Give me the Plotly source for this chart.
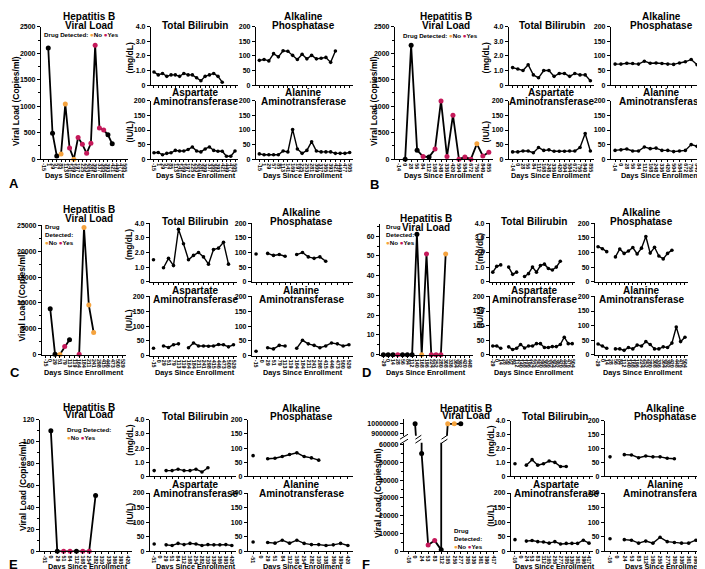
import plotly.graph_objects as go

W, H = 705, 569
FONT = "Liberation Sans"
ORANGE = "#F5A33E"
RED = "#C5195A"
DRUG_COLOR = {"K": "#000000", "N": ORANGE, "Y": RED, "": "#000000"}

# ---------------- Panel A ----------------
A_days = ["-15", "1", "29", "57", "85", "113", "141", "169", "197", "225", "253",
          "281", "309", "337", "365", "393", "421", "449", "477", "505"]
A_viral = [None, 2100, 490, 60, 100, 1040, 210, 0, 410, 280, 110, 300, 2150, 590,
           550, 460, 290, None, None, None]
A_drug = ["", "K", "K", "K", "N", "N", "Y", "N", "Y", "Y", "Y", "Y", "Y", "Y", "Y",
          "K", "K", "", "", ""]
A_bili = [0.9, 0.7, 0.8, 0.6, 0.7, 0.7, 0.6, 0.8, 0.7, 0.7, 0.5, 0.3, 0.6, 0.7, 0.8,
          0.6, 0.2, None, None, None]
A_alp = [85, 88, 83, 108, 97, 118, 116, 102, 88, 106, 90, 102, 90, 92, 95, 78, 117,
         None, None, None]
A_ast = [22, 23, 15, 20, 22, 30, 28, 28, 33, 42, 28, 25, 35, 42, 30, 27, 27, 10, 10, 28]
A_alt = [18, 15, 15, 15, 15, 28, 25, 102, 35, 20, 30, 60, 28, 25, 25, 25, 20, 20, 20, 23]

# ---------------- Panel B ----------------
B_days = ["-14", "0", "28", "56", "84", "112", "168", "248", "336", "420", "504",
          "584", "672", "756", "840", "855"]
B_viral = [None, 0, 2150, 170, 50, 40, 190, 1100, 50, 830, 0, 40, 0, 290, 60, 130]
B_drug = ["", "K", "K", "K", "Y", "K", "Y", "Y", "Y", "Y", "Y", "Y", "Y", "N", "Y", "Y"]
B_bili = [1.2, 1.1, 1.0, 1.4, 0.7, 0.5, 1.0, 1.0, 0.6, 0.8, 0.8, 0.6, 0.8, 0.7, 0.7, 0.3]
B_alp = [72, 72, 75, 74, 72, 82, 75, 76, 74, 72, 71, 76, 80, 88, 70, 66]
B_ast = [25, 25, 28, 28, 22, 40, 30, 32, 27, 27, 27, 28, 28, 40, 88, 28]
B_alt = [30, 32, 35, 28, 28, 42, 36, 38, 30, 30, 26, 28, 30, 50, 44, 33]

# ---------------- Panel C ----------------
C_days = ["-15", "0", "29", "51", "79", "113", "119", "164", "184", "211", "241",
          "298", "415", "446", "473", "500", "529"]
C_viral = [None, 8900, 100, 50, 1600, 2900, None, 100, 24600, 9600, 4300, None, None,
           None, None, None, None]
C_drug = ["", "K", "K", "N", "Y", "K", "", "Y", "N", "N", "N", "", "", "", "", "", ""]
C_bili = [1.5, None, 0.95, 1.6, 1.1, 3.6, 2.6, 1.5, 1.8, 2.0, 1.7, 1.2, 2.2, 2.3, 2.7,
          1.2, None]
C_alp = [95, None, 97, 90, 93, 87, None, 93, 100, 85, 80, 85, 70, None, None, None, None]
C_ast = [25, None, 33, 28, 37, 40, None, 27, 43, 33, 33, 32, 33, 38, 37, 30, 37]
C_alt = [15, None, 27, 23, 35, 33, None, 25, 52, 40, 35, 27, 33, 43, 40, 33, 37]

# ---------------- Panel D ----------------
D_viral_days = ["-29", "0", "14", "28", "56", "84", "112", "140", "168", "196", "224",
                "252", "280", "308", "336", "364", "392", "420", "448"]
D_viral = [0, 0, 0, 0, 0, 0, 0, 61, 0, 51, 0, 0, 0, 51, None, None, None, None, None]
D_drug = ["K", "K", "K", "Y", "K", "K", "K", "K", "N", "Y", "Y", "Y", "Y", "N",
          "", "", "", "", ""]
D_days = ["-29", "0", "14", "28", "56", "84", "112", "140", "168", "196", "224",
          "252", "280", "308", "336", "364", "392", "420", "448", "476", "504"]
D_bili = [0.65, 1.05, 1.15, None, 1.0, 0.5, 0.65, None, 0.35, 0.55, 1.0, 0.65, 1.1,
          1.2, 0.9, 0.8, 1.0, 1.4, None, None, None]
D_alp = [120, 113, 103, None, 85, 112, 97, 105, 117, 95, 115, 155, 98, 118, 88, 78,
         97, 108, None, None, None]
D_ast = [30, 30, 22, None, 27, 18, 22, 35, 23, 30, 30, 38, 38, 25, 25, 28, 28, 35,
         60, 38, 38]
D_alt = [37, 30, 22, None, 20, 20, 15, 25, 20, 33, 30, 45, 35, 20, 20, 27, 25, 40,
         95, 45, 60]

# ---------------- Panel E ----------------
E_days = ["-51", "0", "29", "51", "84", "112", "168", "254", "282", "310", "338",
          "366", "393", "420"]
E_viral = [None, 110, 0, 0, 0, 0, 0, 0, 51, None, None, None, None, None]
E_drug = ["", "K", "K", "Y", "Y", "K", "Y", "Y", "K", "", "", "", "", ""]
E_bili = [0.4, None, 0.4, 0.4, 0.5, 0.4, 0.4, 0.5, 0.3, 0.6, None, None, None, None]
E_alp = [73, None, 62, 64, 70, 77, 83, 70, 65, 57, None, None, None, None]
E_ast = [25, None, 22, 20, 27, 23, 27, 25, 20, 23, 22, 22, 23, 20]
E_alt = [32, None, 30, 28, 38, 28, 38, 27, 23, 23, 20, 22, 27, 20]

# ---------------- Panel F ----------------
F_days = ["-16", "0", "24", "53", "83", "112", "165", "256", "277", "305", "336",
          "361", "396", "417"]
F_viral = [None, 10000000, 55000, 3500, 6000, 800, 10000000, 10000000, 10000000,
           None, None, None, None, None]
F_drug = ["", "K", "K", "Y", "Y", "K", "N", "N", "K", "", "", "", "", ""]
F_bili = [0.9, None, 0.8, 1.2, 0.8, 0.9, 1.1, 1.0, 0.7, 0.7, None, None, None, None]
F_alp = [70, None, 78, 77, 67, 73, 70, 70, 65, 63, None, None, None, None]
F_ast = [40, None, 35, 37, 33, 32, 28, 33, 25, 27, 27, 27, 38, 28]
F_alt = [43, None, 40, 38, 28, 35, 28, 48, 33, 30, 28, 28, 38, 40]

# Axis tick definitions
BILI_TICKS = [0, 1, 2, 3, 4]
BILI_TEXT = ["0", "1.0", "2.0", "3.0", "4.0"]
ENZ_TICKS = [0, 50, 100, 150, 200]
ENZ_TEXT = ["0", "50", "100", "150", "200"]

fig = go.Figure()
layout = {}
annotations = []
shapes = []
counter = [0]


def px_x(p):
    return p / W


def px_y(p):
    return 1 - p / H


def make_axes(box, labels, show_xlabels, yrange, yticks, ytext, minor=None,
              x_ref=None, pad=0.7):
    counter[0] += 1
    i = counter[0]
    s = "" if i == 1 else str(i)
    x0, x1, y0, y1 = box
    n = len(labels)
    if x_ref is None:
        layout["xaxis" + s] = dict(
            domain=[px_x(x0), px_x(x1)], anchor="y" + s,
            range=[-pad, n - 1 + pad], tickmode="array",
            tickvals=list(range(n)), ticktext=labels,
            showticklabels=show_xlabels, tickangle=90, ticks="outside",
            ticklen=2, tickwidth=0.8, tickcolor="black", showline=True,
            linecolor="black", linewidth=1.2, showgrid=False, zeroline=False,
            fixedrange=True,
            tickfont=dict(family=FONT, size=5.3, color="black", weight="bold"))
        xa = "x" + s
    else:
        xa = x_ref
    yd = dict(
        domain=[px_y(y1), px_y(y0)], anchor=xa, range=yrange,
        tickmode="array", tickvals=yticks, ticktext=ytext, ticks="outside",
        ticklen=3, tickwidth=1, tickcolor="black", showline=True,
        linecolor="black", linewidth=1.2, showgrid=False, zeroline=False,
        fixedrange=True,
        tickfont=dict(family=FONT, size=7, color="#000000", weight="bold"))
    if minor:
        yd["minor"] = dict(tick0=0, dtick=minor, ticks="outside", ticklen=1.5,
                           tickwidth=0.8, tickcolor="black", showgrid=False)
    layout["yaxis" + s] = yd
    return xa, "y" + s


def plot_series(xa, ya, vals, colors=None, msize=3.6, lw=1.4, clip=False):
    fig.add_trace(go.Scatter(
        x=list(range(len(vals))), y=vals, xaxis=xa, yaxis=ya,
        mode="lines+markers", line=dict(color="black", width=lw),
        marker=dict(size=msize, color=colors if colors else "black",
                    line=dict(width=0)),
        connectgaps=False, cliponaxis=clip, hoverinfo="skip",
        showlegend=False))


def ann(text, x, y, size, xanchor="center", yanchor="middle", angle=0,
        align="center"):
    annotations.append(dict(
        text=text, x=px_x(x), y=px_y(y), xref="paper", yref="paper",
        showarrow=False, xanchor=xanchor, yanchor=yanchor, textangle=angle,
        align=align, borderpad=0,
        font=dict(family=FONT, size=size, color="black", weight="bold")))


LEG1 = ("Drug Detected: <span style='color:%s'>\u25CF</span>No "
        "<span style='color:%s'>\u25CF</span>Yes" % (ORANGE, RED))
LEG3 = ("Drug<br>Detected:<br><span style='color:%s'>\u25CF</span>No "
        "<span style='color:%s'>\u25CF</span>Yes" % (ORANGE, RED))
LEG2 = ("Drug Detected:<br><span style='color:%s'>\u25CF</span>No "
        "<span style='color:%s'>\u25CF</span>Yes" % (ORANGE, RED))

panels = [
    dict(letter="A", vdays=A_days, viral=A_viral, drug=A_drug, days=A_days,
         bili=A_bili, alp=A_alp, ast=A_ast, alt=A_alt,
         vrange=[0, 2500], vticks=[0, 500, 1000, 1500, 2000, 2500], vminor=250,
         V=(33, 120, 15, 149), TB=(143, 230, 15, 74), ALP=(248, 345, 15, 74),
         AST=(143, 230, 90, 149), ALT=(248, 345, 90, 149),
         vt=(81, 5, 14), tbt=(187, 14), alpt=(295, 5, 14), astt=(187, 82, 91),
         altt=(295, 82, 91), xt_y=166, xt=(77, 188, 295), vyl=(8, 90),
         syl=(122, 47, 121), letter_pos=(6, 174),
         legend=(LEG1, 35, 23, "middle")),
    dict(letter="B", vdays=B_days, viral=B_viral, drug=B_drug, days=B_days,
         bili=B_bili, alp=B_alp, ast=B_ast, alt=B_alt,
         vrange=[0, 2500], vticks=[0, 500, 1000, 1500, 2000, 2500], vminor=250,
         V=(387, 485, 15, 149), TB=(501, 586, 15, 74), ALP=(603, 699, 15, 74),
         AST=(501, 586, 90, 149), ALT=(603, 699, 90, 149),
         vt=(438, 5, 14), tbt=(544, 14), alpt=(653, 5, 14), astt=(543, 82, 91),
         altt=(653, 82, 91), xt_y=166, xt=(436, 543, 653), vyl=(366, 90),
         syl=(478, 47, 121), letter_pos=(366, 175),
         legend=(LEG1, 394, 24, "middle")),
    dict(letter="C", vdays=C_days, viral=C_viral, drug=C_drug, days=C_days,
         bili=C_bili, alp=C_alp, ast=C_ast, alt=C_alt,
         vrange=[0, 25000], vticks=[0, 5000, 10000, 15000, 20000, 25000],
         vminor=2500,
         V=(34, 118, 216, 347), TB=(142, 229, 214, 273), ALP=(244, 345, 214, 273),
         AST=(142, 229, 288, 348), ALT=(244, 345, 288, 348),
         vt=(81, 200, 209), tbt=(187, 212), alpt=(293, 203, 212),
         astt=(187, 282, 291), altt=(293, 282, 291), xt_y=365,
         xt=(76, 187, 295), vyl=(14, 288), syl=(121, 236, 312),
         letter_pos=(7, 365), legend=(LEG3, 36, 213, "top")),
    dict(letter="D", vdays=D_viral_days, viral=D_viral, drug=D_drug, days=D_days,
         bili=D_bili, alp=D_alp, ast=D_ast, alt=D_alt,
         vrange=[0, 66], vticks=[0, 10, 20, 30, 40, 50, 60], vminor=5,
         V=(372, 465, 215, 347), TB=(482, 567, 214, 273), ALP=(587, 680, 214, 273),
         AST=(482, 567, 288, 347), ALT=(587, 680, 288, 347),
         vt=(418, 209, 218), tbt=(526, 212), alpt=(633, 203, 212),
         astt=(526, 282, 291), altt=(633, 282, 291), xt_y=365,
         xt=(418, 526, 635), vyl=None, syl=(472, 240, 309),
         letter_pos=(359, 365), legend=(LEG3, 377, 213, "top")),
    dict(letter="E", vdays=E_days, viral=E_viral, drug=E_drug, days=E_days,
         bili=E_bili, alp=E_alp, ast=E_ast, alt=E_alt,
         vrange=[0, 120], vticks=[0, 20, 40, 60, 80, 100, 120], vminor=10,
         V=(32, 124, 413, 546), TB=(142, 228, 413, 470), ALP=(240, 345, 413, 470),
         AST=(142, 228, 487, 546), ALT=(240, 345, 487, 546),
         vt=(81, 400, 408), tbt=(187, 410), alpt=(293, 401, 410),
         astt=(187, 478, 487), altt=(293, 478, 487), xt_y=561,
         xt=(80, 188, 295), vyl=(15, 480), syl=(122, 434, 508),
         letter_pos=(5, 559), legend=(LEG2, 58, 418, "top")),
    dict(letter="F", vdays=F_days, viral=F_viral, drug=F_drug, days=F_days,
         bili=F_bili, alp=F_alp, ast=F_ast, alt=F_alt,
         vrange=None, vticks=None, vminor=None,
         V=(396, 490, 436, 546), Vtop=(396, 490, 412, 429),
         TB=(503, 585, 414, 470), ALP=(597, 700, 414, 470),
         AST=(503, 585, 487, 546), ALT=(597, 700, 487, 546),
         vt=(458, 401, 409), tbt=(547, 410), alpt=(657, 401, 410),
         astt=(548, 478, 487), altt=(657, 478, 487), xt_y=561,
         xt=(None, 547, 657), vyl=(370, 487), syl=(483, 435, 510),
         letter_pos=(358, 559), legend=(LEG3, 445, 520, "top")),
]

# F broken-axis ranges
F_BOTTOM_RANGE = [0, 61100]
F_BOTTOM_TICKS = [0, 10000, 20000, 30000, 40000, 50000, 60000]
F_TOP_RANGE = [8800000, 10500000]
F_TOP_TICKS = [9000000, 10000000]

for p in panels:
    colors = [DRUG_COLOR[d] for d in p["drug"]]
    if p["letter"] == "F":
        xa, ya = make_axes(p["V"], p["vdays"], True, F_BOTTOM_RANGE,
                           F_BOTTOM_TICKS, [str(t) for t in F_BOTTOM_TICKS],
                           minor=5000)
        _, ya_top = make_axes(p["Vtop"], p["vdays"], True, F_TOP_RANGE,
                              F_TOP_TICKS, [str(t) for t in F_TOP_TICKS],
                              x_ref=xa)
        plot_series(xa, ya, p["viral"], colors=colors, msize=5, lw=1.8,
                    clip=True)
        plot_series(xa, ya_top, p["viral"], colors=colors, msize=5, lw=1.8,
                    clip=True)
        # break marks on the y axis
        ax_x = p["V"][0]
        gap_c = (p["Vtop"][3] + p["V"][2]) / 2
        for dy in (-2.5, 2.5):
            shapes.append(dict(type="line", xref="paper", yref="paper",
                               x0=px_x(ax_x - 4), y0=px_y(gap_c + dy + 2.5),
                               x1=px_x(ax_x + 4), y1=px_y(gap_c + dy - 2.5),
                               line=dict(color="black", width=1)))
        # break marks on the data line where it jumps across the gap
        vals = p["viral"]
        for k in range(len(vals) - 1):
            a, b = vals[k], vals[k + 1]
            if a is None or b is None:
                continue
            hi_a = a > F_BOTTOM_RANGE[1]
            hi_b = b > F_BOTTOM_RANGE[1]
            if hi_a != hi_b:
                xc = k + 0.5
                for dy in (-2, 2):
                    shapes.append(dict(type="line", xref=xa, yref="paper",
                                       x0=xc - 0.45, y0=px_y(gap_c + dy + 2),
                                       x1=xc + 0.45, y1=px_y(gap_c + dy - 2),
                                       line=dict(color="black", width=1)))
    else:
        xa, ya = make_axes(p["V"], p["vdays"], True, p["vrange"], p["vticks"],
                           [str(t) for t in p["vticks"]], minor=p["vminor"])
        plot_series(xa, ya, p["viral"], colors=colors, msize=5, lw=1.8)

    for key, box, show, rng, tv, tt in (
            ("bili", "TB", False, [0, 4], BILI_TICKS, BILI_TEXT),
            ("alp", "ALP", False, [0, 200], ENZ_TICKS, ENZ_TEXT),
            ("ast", "AST", True, [0, 200], ENZ_TICKS, ENZ_TEXT),
            ("alt", "ALT", True, [0, 200], ENZ_TICKS, ENZ_TEXT)):
        xa2, ya2 = make_axes(p[box], p["days"], show, rng, tv, tt)
        plot_series(xa2, ya2, p[key])

    # titles
    vx, vy1, vy2 = p["vt"]
    ann("Hepatitis B", vx, vy1, 10)
    ann("Viral Load", vx, vy2, 10)
    ann("Total Bilirubin", p["tbt"][0], p["tbt"][1], 10)
    ann("Alkaline", p["alpt"][0], p["alpt"][1], 10)
    ann("Phosphatase", p["alpt"][0], p["alpt"][2], 10)
    ann("Aspartate", p["astt"][0], p["astt"][1], 10)
    ann("Aminotransferase", p["astt"][0], p["astt"][2], 10)
    ann("Alanine", p["altt"][0], p["altt"][1], 10)
    ann("Aminotransferase", p["altt"][0], p["altt"][2], 10)
    # x titles
    for xc in p["xt"]:
        if xc is not None:
            ann("Days Since Enrollment", xc, p["xt_y"], 7.3)
    # y titles
    if p["vyl"]:
        ann("Viral Load (Copies/ml)", p["vyl"][0], p["vyl"][1], 8.5, angle=-90)
    ann("(mg/dL)", p["syl"][0], p["syl"][1], 8.5, angle=-90)
    ann("(IU/L)", p["syl"][0], p["syl"][2], 8.5, angle=-90)
    # panel letter
    ann(p["letter"], p["letter_pos"][0], p["letter_pos"][1], 13)
    # drug legend
    lt, lx, ly, lanchor = p["legend"]
    ann(lt, lx, ly, 6.2, xanchor="left", yanchor=lanchor, align="left")

layout.update(dict(
    width=W, height=H, margin=dict(l=0, r=0, t=0, b=0),
    paper_bgcolor="white", plot_bgcolor="white", showlegend=False,
    annotations=annotations, shapes=shapes,
    font=dict(family=FONT, color="black"),
))
fig.update_layout(layout)
fig.write_html("out.html")
